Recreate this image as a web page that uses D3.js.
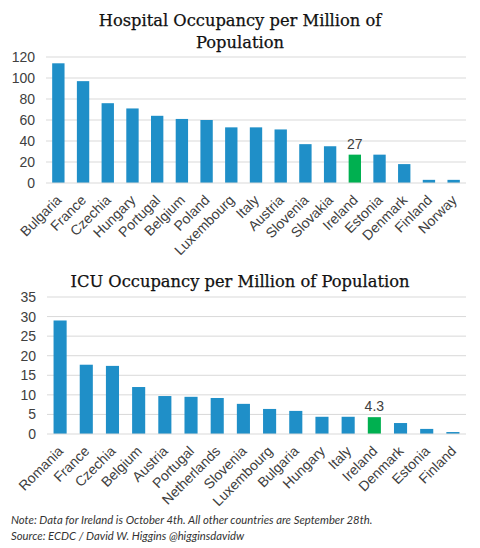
<!DOCTYPE html>
<html>
<head>
<meta charset="utf-8">
<script src="https://cdn.jsdelivr.net/npm/d3@7"></script>
<style>
  body { margin: 0; background: #fff; }
  svg { display: block; }
</style>
</head>
<body>
<svg id="chart" width="480" height="548"></svg>
<script>
// hospital occupancy per million
const hospCountries = ['Bulgaria', 'France', 'Czechia', 'Hungary', 'Portugal', 'Belgium', 'Poland',
  'Luxembourg', 'Italy', 'Austria', 'Slovenia', 'Slovakia', 'Ireland', 'Estonia', 'Denmark', 'Finland', 'Norway'];
const hospValues = [114, 97, 76, 71, 64, 61, 60, 53, 53, 51, 37, 35, 27, 27, 18, 3, 3];
const hospTicks = [0, 20, 40, 60, 80, 100, 120];

// ICU occupancy per million
const icuCountries = ['Romania', 'France', 'Czechia', 'Belgium', 'Austria', 'Portugal', 'Netherlands',
  'Slovenia', 'Luxembourg', 'Bulgaria', 'Hungary', 'Italy', 'Ireland', 'Denmark', 'Estonia', 'Finland'];
const icuValues = [29, 17.7, 17.4, 12, 9.7, 9.5, 9.2, 7.7, 6.4, 5.9, 4.4, 4.4, 4.3, 2.8, 1.3, 0.5];
const icuTicks = [0, 5, 10, 15, 20, 25, 30, 35];

const highlight = 'Ireland';
const blue = '#1f8fc8', green = '#00b050';
const sans = '"Liberation Sans", Arial, sans-serif';

const svg = d3.select('#chart');

function drawPanel(opts) {
  const { countries, values, ticks, yMax, x0, x1, y0, y1, label } = opts;
  const g = svg.append('g');

  const x = d3.scaleBand().domain(countries).range([x0, x1]).paddingInner(0.5).paddingOuter(0.25);
  const y = d3.scaleLinear().domain([0, yMax]).range([y1, y0]);

  // gridlines
  g.selectAll('line.grid')
    .data(ticks.filter(t => t > 0))
    .enter().append('line')
    .attr('x1', x0).attr('x2', x1)
    .attr('y1', d => y(d)).attr('y2', d => y(d))
    .attr('stroke', '#d9d9d9').attr('stroke-width', 1);

  const yAxis = g.append('g')
    .attr('transform', `translate(${x0},0)`)
    .call(d3.axisLeft(y).tickValues(ticks).tickSize(0).tickPadding(11));
  yAxis.select('.domain').remove();
  yAxis.selectAll('text')
    .attr('font-family', sans)
    .attr('font-size', 14).attr('fill', '#404040');

  g.selectAll('rect')
    .data(values)
    .enter().append('rect')
    .attr('x', (d, i) => x(countries[i]))
    .attr('y', d => y(d))
    .attr('width', x.bandwidth())
    .attr('height', d => y(0) - y(d))
    .attr('fill', (d, i) => countries[i] === highlight ? green : blue);

  // baseline
  g.append('line')
    .attr('x1', x0).attr('x2', x1)
    .attr('y1', y(0)).attr('y2', y(0))
    .attr('stroke', '#d9d9d9');

  const xAxis = g.append('g')
    .attr('transform', `translate(0,${y1})`)
    .call(d3.axisBottom(x).tickSize(0).tickPadding(0));
  xAxis.select('.domain').remove();
  xAxis.selectAll('text')
    .attr('font-family', sans)
    .attr('font-size', 14).attr('fill', '#404040')
    .attr('text-anchor', 'end')
    .attr('dy', 0)
    .attr('transform', 'translate(4,18) rotate(-45)');

  // data label for highlighted bar
  const hi = countries.indexOf(highlight);
  g.append('text')
    .attr('x', x(highlight) + x.bandwidth() / 2)
    .attr('y', y(values[hi]) - 6)
    .attr('text-anchor', 'middle')
    .attr('font-family', sans)
    .attr('font-size', 14).attr('fill', '#404040')
    .text(label);
}

drawPanel({ countries: hospCountries, values: hospValues, ticks: hospTicks, yMax: 120,
  x0: 46, x1: 466, y0: 57, y1: 183, label: '27' });
drawPanel({ countries: icuCountries, values: icuValues, ticks: icuTicks, yMax: 35,
  x0: 47, x1: 466, y0: 297, y1: 434, label: '4.3' });

// titles
const titleFont = '"DejaVu Serif", serif';
function title(y, txt) {
  svg.append('text').attr('x', 240).attr('y', y).attr('text-anchor', 'middle')
    .attr('font-family', titleFont).attr('font-size', 16.3).attr('fill', '#111')
    .attr('stroke', '#111').attr('stroke-width', 0.25)
    .text(txt);
}
title(26, 'Hospital Occupancy per Million of');
title(48, 'Population');
title(287, 'ICU Occupancy per Million of Population');

// footnote
svg.append('text').attr('x', 11).attr('y', 524)
  .attr('font-family', 'Lato, sans-serif').attr('font-style', 'italic')
  .attr('font-size', 11.3).attr('fill', '#333')
  .text('Note: Data for Ireland is October 4th. All other countries are September 28th.');
svg.append('text').attr('x', 11).attr('y', 540)
  .attr('font-family', 'Lato, sans-serif').attr('font-style', 'italic')
  .attr('font-size', 11.3).attr('fill', '#333')
  .text('Source: ECDC / David W. Higgins @higginsdavidw');
</script>
</body>
</html>
